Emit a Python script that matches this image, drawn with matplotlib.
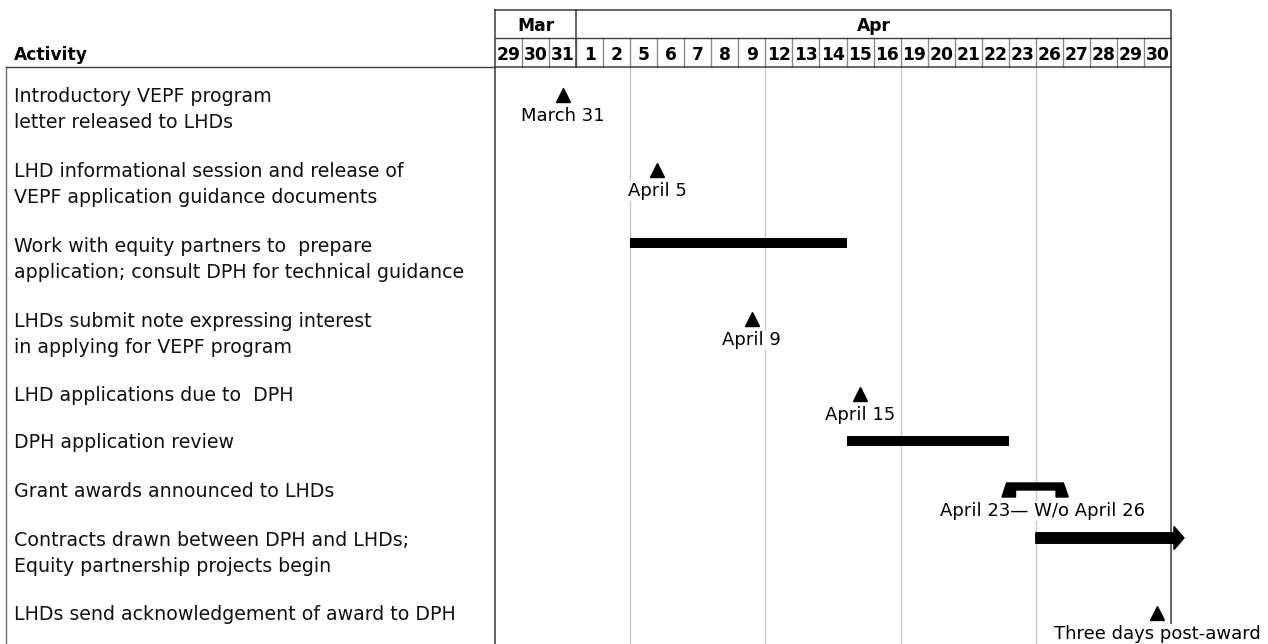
import matplotlib.pyplot as plt
from matplotlib import transforms
from matplotlib.patches import Polygon

plt.rcParams["font.family"] = "DejaVu Sans"

# working days on the timeline
months = ["Mar", "Apr"]
month_days = [
    [29, 30, 31],
    [1, 2, 5, 6, 7, 8, 9, 12, 13, 14, 15, 16, 19, 20, 21, 22, 23, 26, 27, 28, 29, 30],
]

activities = [
    "Introductory VEPF program\nletter released to LHDs",
    "LHD informational session and release of\nVEPF application guidance documents",
    "Work with equity partners to  prepare\napplication; consult DPH for technical guidance",
    "LHDs submit note expressing interest\nin applying for VEPF program",
    "LHD applications due to  DPH",
    "DPH application review",
    "Grant awards announced to LHDs",
    "Contracts drawn between DPH and LHDs;\nEquity partnership projects begin",
    "LHDs send acknowledgement of award to DPH",
]

# milestones
milestone_rows = [0, 1, 3, 4, 8]
milestone_dates = [("Mar", 31), ("Apr", 5), ("Apr", 9), ("Apr", 15), ("Apr", 30)]
milestone_labels = ["March 31", "April 5", "April 9", "April 15", "Three days post-award"]

# tasks with a fixed span
task_rows = [2, 5]
task_starts = [("Apr", 5), ("Apr", 15)]
task_ends = [("Apr", 14), ("Apr", 22)]

# summary span and the open-ended task
summary_row = 6
summary_start = ("Apr", 23)
summary_end = ("Apr", 26)
summary_label = "April 23\u2014 W/o April 26"

ongoing_row = 7
ongoing_start = ("Apr", 26)

# ---- layout (pixels from the top of the figure) ----
W, H = 1268, 644
grid_left, grid_right = 495, 1171
head_top, head_mid, head_bot = 9.5, 38.3, 67
text_x = 14
first_baseline = [102, 177, 252, 327, 401, 448, 497, 546, 620]
line_gap = 26.3
mark_y = [95, 170, 243, 319, 394, 441, 490, 538, 613]
milestone_nudge = [0.5, 1.0, 0.5, 0.5, 0.5]
label_drop = 26

dark = "#3c3c3c"
mid_gray = "#8a8a8a"
light_gray = "#c8c8c8"

flat = [(m, d) for m, days in zip(months, month_days) for d in days]
n_cols = len(flat)


def col(date):
    return flat.index(date)


fig = plt.figure(figsize=(W / 100, H / 100), dpi=100)

ax = fig.add_axes([grid_left / W, 0, (grid_right - grid_left) / W, (H - head_bot) / H])
ax.set_xlim(0, n_cols)
ax.set_ylim(H, head_bot)
ax.axis("off")

hx = fig.add_axes([grid_left / W, (H - head_bot) / H,
                   (grid_right - grid_left) / W, (head_bot - head_top) / H])
hx.set_xlim(0, n_cols)
hx.set_ylim(2, 0)
hx.axis("off")

# ---- header: months and days ----
start = 0
for m, days in zip(months, month_days):
    hx.text(start + len(days) / 2, 0.52, m, ha="center", va="center_baseline",
            fontsize=12.3, fontweight="bold")
    for i, d in enumerate(days):
        hx.text(start + i + 0.5, 1.52, str(d), ha="center", va="center_baseline",
                fontsize=12.3, fontweight="bold")
    start += len(days)

for i in range(1, n_cols):
    hx.plot([i, i], [1, 2], color=mid_gray, lw=1, clip_on=False)
hx.plot([0, n_cols], [1, 1], color=dark, lw=1, clip_on=False)
hx.plot([0, n_cols, n_cols, 0, 0], [0, 0, 2, 2, 0], color=dark, lw=1.1, clip_on=False)
hx.plot([len(month_days[0])] * 2, [0, 2], color=dark, lw=1.1, clip_on=False)

# ---- body grid: week boundaries ----
week_starts = [i for i in range(1, n_cols)
               if flat[i][0] == flat[i - 1][0] and flat[i][1] - flat[i - 1][1] > 1]
for c in week_starts:
    ax.axvline(c, color=light_gray, lw=1, zorder=1)
ax.axvline(0, color=dark, lw=1.1, zorder=1, clip_on=False)
ax.axvline(n_cols, color=dark, lw=1.1, zorder=1, clip_on=False)

# activity column frame
left_tr = transforms.blended_transform_factory(fig.transFigure, ax.transData)
ax.plot([6 / W, 6 / W], [head_bot, H], color="#6a6a6a", lw=1, transform=left_tr, clip_on=False)
ax.plot([6 / W, grid_left / W], [head_bot, head_bot], color=dark, lw=1,
        transform=left_tr, clip_on=False)

ax.text(text_x / W, 60, "Activity", transform=left_tr, fontsize=12.3,
        fontweight="bold", va="baseline")
for r, name in enumerate(activities):
    for k, line in enumerate(name.split("\n")):
        ax.text(text_x / W, first_baseline[r] + k * line_gap, line, transform=left_tr,
                fontsize=13.7, va="baseline", color="#111111")

label_box = dict(facecolor="white", edgecolor="none", pad=1)

# ---- milestones ----
for r, d, lab, nudge in zip(milestone_rows, milestone_dates, milestone_labels, milestone_nudge):
    x = col(d) + nudge
    ax.plot(x, mark_y[r], marker="^", ms=9.5, color="black", zorder=5, clip_on=False)
    ax.text(x, mark_y[r] + label_drop, lab, ha="center", va="baseline", fontsize=13,
            bbox=label_box, zorder=3, clip_on=False)

# ---- tasks ----
for r, s, e in zip(task_rows, task_starts, task_ends):
    x0 = col(s)
    x1 = col(e) + 1
    ax.barh(mark_y[r], x1 - x0, left=x0, height=10, color="black", zorder=4)

# ---- summary bar ----
x0 = col(summary_start)
x1 = col(summary_end) + 1
yc = mark_y[summary_row]
top, mid, bot = yc - 7, yc, yc + 7
pts = [(x0 - 0.08, top), (x1 + 0.02, top), (x1 + 0.2, bot), (x1 - 0.25, bot),
       (x1 - 0.25, mid), (x0 + 0.25, mid), (x0 + 0.25, bot), (x0 - 0.25, bot)]
ax.add_patch(Polygon(pts, closed=True, color="black", zorder=4))
ax.text((x0 + x1) / 2 + 0.25, yc + label_drop, summary_label, ha="center", va="baseline",
        fontsize=13, bbox=label_box, zorder=3)

# ---- open-ended task ----
x0 = col(ongoing_start)
ax.arrow(x0, mark_y[ongoing_row], n_cols + 0.48 - x0, 0, width=10.5, head_width=23,
         head_length=0.37, length_includes_head=True, color="black", zorder=4,
         clip_on=False)

fig.savefig("out.png", dpi=100)
